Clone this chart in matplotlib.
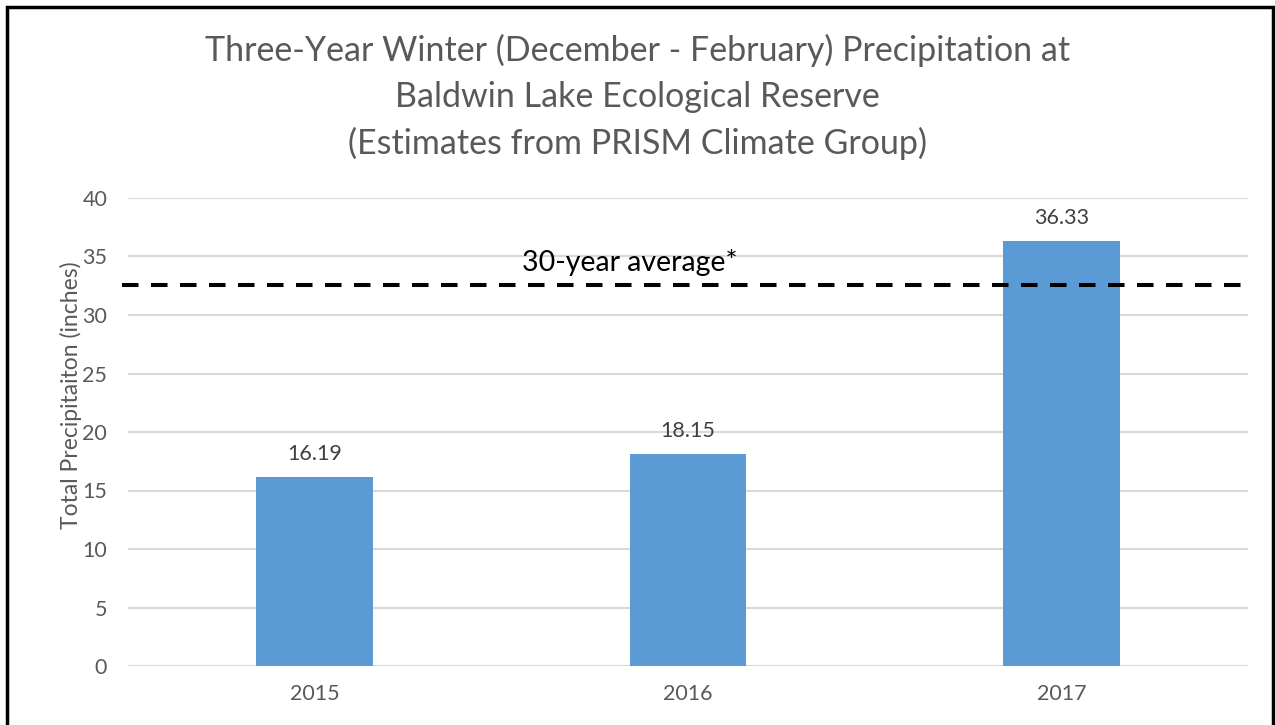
import matplotlib
matplotlib.use("Agg")
import matplotlib.pyplot as plt
from matplotlib.patches import Rectangle

years = ["2015", "2016", "2017"]
precip = [16.19, 18.15, 36.33]
avg_30yr = 32.56
avg_label = "30-year average*"
title = ("Three-Year Winter (December - February) Precipitation at\n"
         "Baldwin Lake Ecological Reserve\n"
         "(Estimates from PRISM Climate Group)")
ylabel = "Total Precipitaiton (inches)"
yticks = [0, 5, 10, 15, 20, 25, 30, 35, 40]

plt.rcParams['font.family'] = ['Lato', 'DejaVu Sans']

fig = plt.figure(figsize=(12.75, 7.25), dpi=100)
ax = fig.add_axes([128/1275, 1 - 666/725, 1120/1275, 468/725])

x = list(range(len(years)))
ax.bar(x, precip, width=0.313, color="#5B9BD5", zorder=3)
for xi, v in zip(x, precip):
    ax.text(xi, v + 1.1, f"{v:.2f}", ha="center", va="bottom",
            fontsize=15.5, color="#404040")

ax.set_xlim(-0.5, 2.5)
ax.set_ylim(0, 40)
ax.set_yticks(yticks)
ax.set_xticks(x)
ax.set_xticklabels(years)
ax.tick_params(axis="both", length=0, labelsize=15.5, labelcolor="#595959")
ax.tick_params(axis="y", pad=15)
ax.tick_params(axis="x", pad=13)
ax.grid(axis="y", color="#D9D9D9", linewidth=1.5, zorder=0)
for s in ax.spines.values():
    s.set_visible(False)

ax.axhline(avg_30yr, xmin=-0.005, xmax=0.999, color="black", linewidth=2.9,
           linestyle=(0, (4.1, 3.1)), zorder=4, clip_on=False)
ax.text(0.845, 34.5, avg_label, ha="center", va="center", fontsize=20.5,
        color="black")

ax.set_ylabel(ylabel, fontsize=16.5, color="#595959", labelpad=4)
ax.yaxis.set_label_coords(-0.0414, 0.579)

fig.text(0.5, 1 - 97/725, title, ha="center", va="center", fontsize=24.5,
         color="#595959", linespacing=1.52)

fig.patches.append(Rectangle((7/1275, -0.1), (1273-7)/1275, 1 - 7/725 + 0.1,
                             transform=fig.transFigure, fill=False,
                             edgecolor="black", linewidth=2.5))

fig.savefig("out.png", dpi=100)
